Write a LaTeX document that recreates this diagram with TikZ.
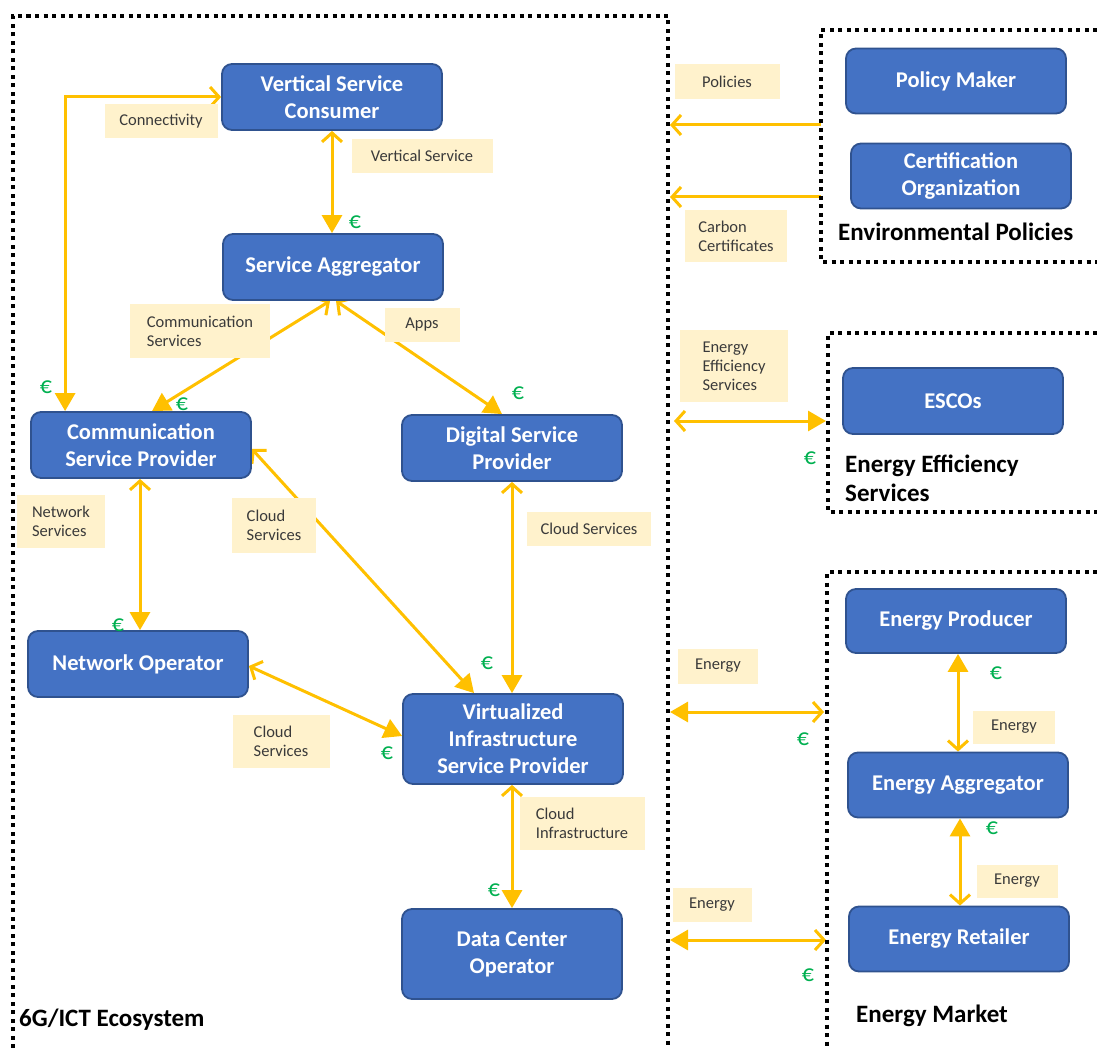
\documentclass[tikz,border=0pt]{standalone}
\usepackage{fontspec}
\setmainfont{Carlito}
\usetikzlibrary{arrows.meta,calc}

\definecolor{boxfill}{HTML}{4472C4}
\definecolor{boxline}{HTML}{2F528F}
\definecolor{flowc}{HTML}{FFC000}
\definecolor{tagfill}{HTML}{FFF2CC}
\definecolor{eurc}{HTML}{00B050}
\definecolor{tagtext}{HTML}{3A3A3A}

\pgfdeclarelayer{bg}
\pgfsetlayers{bg,main}

\tikzset{
  openhead/.tip={Straight Barb[length=9pt,width=20pt]},
  fullhead/.tip={Triangle[length=18pt,width=20pt]},
  actor/.style={draw=boxline, line width=1.8pt, fill=boxfill, rounded corners=10pt,
    text=white, font=\fontsize{22.5}{27}\selectfont\bfseries, align=center,
    minimum width=220pt, minimum height=66pt, inner sep=2pt},
  tag/.style={fill=tagfill, text=tagtext, font=\fontsize{16.5}{19}\selectfont,
    align=left, inner sep=0pt},
  frame/.style={line width=4pt, dash pattern=on 4pt off 4.5pt},
  link/.style={draw=flowc, line width=3pt},
  eur/.style={text=eurc, font=\fontsize{24}{24}\selectfont, inner sep=0pt},
  heading/.style={font=\fontsize{25}{29}\selectfont\bfseries, anchor=west,
    align=left, inner sep=0pt},
}

\begin{document}
\begin{tikzpicture}[x=1pt,y=-1pt]
\useasboundingbox (0,0) rectangle (1097,1048);

% dotted domain frames
\draw[frame] (13,1048) -- (13,16) -- (668,16) -- (668,1048);
\draw[frame] (1097,30) -- (821,30) -- (821,262) -- (1097,262);
\draw[frame] (1097,333) -- (828,333) -- (828,512) -- (1097,512);
\draw[frame] (1097,572) -- (827,572) -- (827,1048);

% actors
\node[actor] (vsc) at (332,97) {Vertical Service\\Consumer};
\node[actor] (sa) at (333,267) {Service Aggregator};
\node[actor] (csp) at (141,445) {Communication\\Service Provider};
\node[actor] (dsp) at (512,448) {Digital Service\\Provider};
\node[actor] (no) at (138,664) {Network Operator};
\node[actor, minimum height=90pt] (visp) at (513,739) {Virtualized\\Infrastructure\\Service Provider};
\node[actor, minimum height=90pt] (dco) at (512,954) {Data Center\\Operator};
\node[actor, minimum height=65pt] (pm) at (956,81) {Policy Maker};
\node[actor, minimum height=65pt] (co) at (961,176) {Certification\\Organization};
\node[actor] (esco) at (953,401) {ESCOs};
\node[actor, minimum height=64pt] (ep) at (956,621) {Energy Producer};
\node[actor, minimum height=65pt] (ea) at (958,785) {Energy Aggregator};
\node[actor, minimum height=65pt] (er) at (959,939) {Energy Retailer};

% free ends of the connectors that meet the frames
\coordinate (polA) at (821,125);
\coordinate (polB) at (670,125);
\coordinate (carA) at (821,197);
\coordinate (carB) at (670,197);
\coordinate (effA) at (674,421);
\coordinate (effB) at (826,421);
\coordinate (enA) at (670,712);
\coordinate (enB) at (824,712);
\coordinate (enC) at (670,940);
\coordinate (enD) at (826,940);

% connectors
\begin{pgfonlayer}{bg}
\draw[link, fullhead-openhead] ($(csp.north west)+(35,0)$) |- (vsc.west);
\draw[link, openhead-fullhead] (vsc.south) -- (vsc.south |- sa.north);
\draw[link, openhead-fullhead] ($(sa.south)+(-3,0)$) -- ($(csp.north)+(11,0)$);
\draw[link, openhead-fullhead] ($(sa.south)+(3,0)$) -- ($(dsp.north)+(-10,0)$);
\draw[link, openhead-fullhead] ($(csp.south)+(-1,0)$) -- ($(no.north)+(2,0)$);
\draw[link, openhead-fullhead] ($(csp.east)+(0,4)$) -- ($(visp.north)+(-39,0)$);
\draw[link, openhead-fullhead] (dsp.south) -- (dsp.south |- visp.north);
\draw[link, openhead-fullhead] ($(no.east)+(0,2)$) -- ($(visp.west)+(0,-3)$);
\draw[link, openhead-fullhead] (dco.north |- visp.south) -- (dco.north);
\draw[link, -openhead] (polA) -- (polB);
\draw[link, -openhead] (carA) -- (carB);
\draw[link, openhead-fullhead] (effA) -- (effB);
\draw[link, fullhead-openhead] (enA) -- (enB);
\draw[link, fullhead-openhead] (enC) -- (enD);
\draw[link, fullhead-openhead] (ea.north |- ep.south) -- (ea.north);
\draw[link, fullhead-openhead] ($(ea.south)+(2,0)$) -- ($(ea.south |- er.north)+(2,0)$);
\end{pgfonlayer}

% flow labels
\node[tag, minimum width=113pt, minimum height=34pt] (tConn) at (161,121) {Connectivity};
\node[tag, minimum width=141pt, minimum height=34pt] (tVert) at (422,156) {Vertical Service};
\node[tag, minimum width=140pt, minimum height=53pt] (tComm) at (200,331) {Communication\\Services};
\node[tag, minimum width=75pt, minimum height=34pt] (tApps) at (422,325) {Apps};
\node[tag, minimum width=88pt, minimum height=53pt] (tNet) at (61,521) {Network\\Services};
\node[tag, minimum width=84pt, minimum height=55pt] (tCl1) at (274,525) {Cloud\\Services};
\node[tag, minimum width=124pt, minimum height=34pt] (tCl2) at (589,529) {Cloud Services};
\node[tag, minimum width=97pt, minimum height=53pt] (tCl3) at (281,741) {Cloud\\Services};
\node[tag, minimum width=125pt, minimum height=53pt] (tInf) at (582,823) {Cloud\\Infrastructure};
\node[tag, minimum width=105pt, minimum height=35pt] (tPol) at (727,82) {Policies};
\node[tag, minimum width=102pt, minimum height=52pt] (tCar) at (736,236) {Carbon\\Certificates};
\node[tag, minimum width=108pt, minimum height=72pt] (tEff) at (734,366) {Energy\\Efficiency\\Services};
\node[tag, minimum width=80pt, minimum height=35pt] (tEn1) at (718,666) {Energy};
\node[tag, minimum width=79pt, minimum height=34pt] (tEn2) at (712,905) {Energy};
\node[tag, minimum width=82pt, minimum height=33pt] (tEn3) at (1014,727) {Energy};
\node[tag, minimum width=81pt, minimum height=33pt] (tEn4) at (1017,881) {Energy};

% payment marks
\node[eur] (e1) at (46,387) {€};
\node[eur] (e2) at (355,222) {€};
\node[eur] (e3) at (182,404) {€};
\node[eur] (e4) at (518,393) {€};
\node[eur] (e5) at (118,625) {€};
\node[eur] (e6) at (487,663) {€};
\node[eur] (e7) at (387,753) {€};
\node[eur] (e8) at (494,890) {€};
\node[eur] (e9) at (810,458) {€};
\node[eur] (e10) at (803,739) {€};
\node[eur] (e11) at (808,975) {€};
\node[eur] (e12) at (996,673) {€};
\node[eur] (e13) at (992,828) {€};

% domain titles
\node[heading] (hEnv) at (838,232) {Environmental Policies};
\node[heading] (hEff) at (845,478) {Energy Efficiency\\Services};
\node[heading] (hMkt) at (856,1016) {Energy Market};
\node[heading] (hIct) at (19,1020) {6G/ICT Ecosystem};
\end{tikzpicture}
\end{document}
